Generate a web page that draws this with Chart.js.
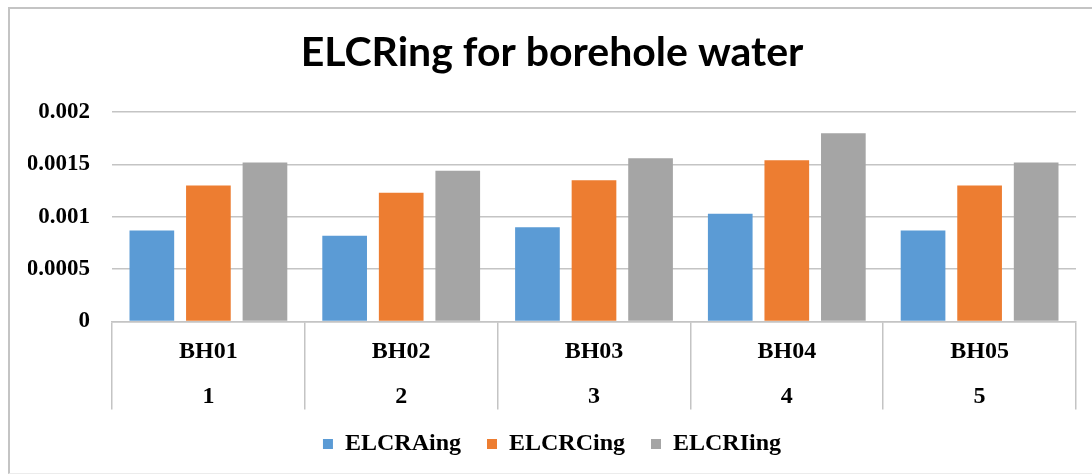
<!DOCTYPE html>
<html>
<head>
<meta charset="utf-8">
<script src="https://cdn.jsdelivr.net/npm/chart.js@4.4.1/dist/chart.umd.min.js"></script>
<style>
  html, body { margin: 0; padding: 0; background: #ffffff; overflow: hidden; }
  #frame { position: absolute; left: 8px; top: 7px; width: 1100px; height: 464px;
           border-left: 2px solid #c4c4c4; border-top: 2px solid #c4c4c4; border-bottom: 1px solid #ececec; }
  #wrap { position: absolute; left: 0; top: 0; width: 1092px; height: 476px; }
</style>
</head>
<body>
<div id="frame"></div>
<div id="wrap"><canvas id="c" width="1092" height="476"></canvas></div>
<script>
// ---- data ----
const sites = ['BH01', 'BH02', 'BH03', 'BH04', 'BH05'];
const siteNumbers = ['1', '2', '3', '4', '5'];
const seriesNames = ['ELCRAing', 'ELCRCing', 'ELCRIing'];
const elcrAing = [0.00087, 0.00082, 0.00090, 0.00103, 0.00087];
const elcrCing = [0.00130, 0.00123, 0.00135, 0.00154, 0.00130];
const elcrIing = [0.00152, 0.00144, 0.00156, 0.00180, 0.00152];
const yTickLabels = ['0', '0.0005', '0.001', '0.0015', '0.002'];

const colors = ['#5B9BD5', '#ED7D31', '#A5A5A5'];
const serifFamily = "'Liberation Serif', 'Times New Roman', serif";
const serifBold = { family: serifFamily, weight: 'bold', size: 24 };

const labels = sites.map((s, i) => [s, siteNumbers[i]]);
const seriesData = [elcrAing, elcrCing, elcrIing];

new Chart(document.getElementById('c'), {
  type: 'bar',
  data: {
    labels: labels,
    datasets: seriesNames.map((n, i) => ({
      label: n,
      data: seriesData[i],
      backgroundColor: colors[i],
      borderWidth: 0,
      categoryPercentage: 0.88,
      barPercentage: 0.79
    }))
  },
  options: {
    responsive: false,
    animation: false,
    devicePixelRatio: 1,
    layout: { padding: { left: 28, right: 16, top: 0, bottom: 10 } },
    plugins: {
      tooltip: { enabled: false },
      title: {
        display: true,
        text: 'ELCRing for borehole water',
        color: '#000000',
        font: { family: "Lato, 'Open Sans', sans-serif", weight: 'bold', size: 41, lineHeight: 1.2 },
        padding: { top: 28, bottom: 35 }
      },
      legend: {
        position: 'bottom',
        labels: {
          color: '#000000',
          font: serifBold,
          boxWidth: 10,
          boxHeight: 10,
          padding: 26
        }
      }
    },
    scales: {
      x: {
        grid: {
          display: true,
          offset: true,
          drawOnChartArea: false,
          drawTicks: true,
          tickLength: 88,
          color: '#c4c4c4',
          lineWidth: 1.5
        },
        border: { display: true, color: '#c4c4c4', width: 1.5 },
        ticks: {
          color: '#000000',
          font: Object.assign({}, serifBold, { lineHeight: 1.88 }),
          padding: -80.5,
          maxRotation: 0,
          autoSkip: false
        },
        afterFit: (scale) => { scale.height = 84.5; }
      },
      y: {
        min: 0,
        max: 0.002,
        grid: { color: '#c4c4c4', lineWidth: 1.5, drawTicks: false },
        border: { display: false },
        ticks: {
          stepSize: 0.0005,
          color: '#000000',
          font: { family: serifFamily, weight: 'bold', size: 23 },
          padding: 22,
          callback: (v, i) => yTickLabels[i]
        },
        afterFit: (scale) => { scale.width = 84; }
      }
    }
  }
});
</script>
</body>
</html>
